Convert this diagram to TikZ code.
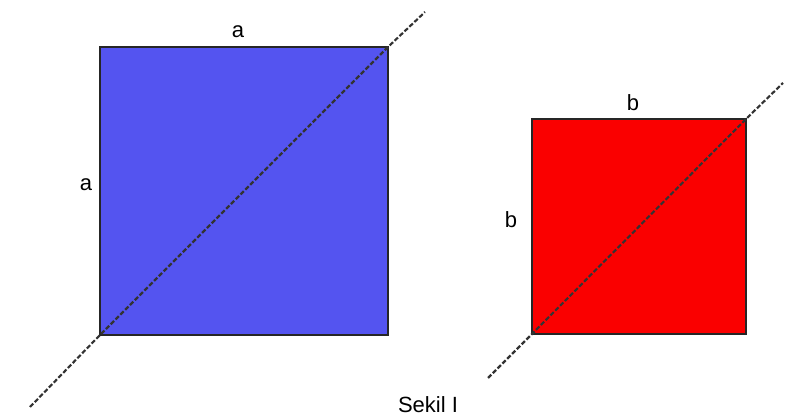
\documentclass[tikz,border=0pt]{standalone}
\usepackage{fontspec}
\setmainfont{Liberation Sans}
\definecolor{sqblue}{RGB}{84,84,240}
\definecolor{sqred}{RGB}{250,0,0}
\begin{document}
\begin{tikzpicture}[x=0.75pt,y=-0.75pt,
  sq/.style={draw=black!85, line width=1.1pt},
  diag/.style={black!80, line width=1.6pt, dash pattern=on 3.5pt off 1.6pt},
  lbl/.style={font=\fontsize{16.5}{18}\selectfont}]
\useasboundingbox (0,0) rectangle (789,416);

% big square
\coordinate (A1) at (100,335);
\coordinate (A2) at (388,47);
\filldraw[sq, fill=sqblue] (A1) rectangle (A2);
\coordinate (A0) at (30,407);
\coordinate (A3) at (425,12);
\draw[diag] (A0) -- (A1) -- (A2) -- (A3);
\node[lbl] (atop) at (238,32) {a};
\node[lbl] (aleft) at (86,185) {a};

% small square
\coordinate (B1) at (532,334);
\coordinate (B2) at (746,119);
\filldraw[sq, fill=sqred] (B1) rectangle (B2);
\coordinate (B0) at (488,378);
\coordinate (B3) at (783,83);
\draw[diag] (B0) -- (B1) -- (B2) -- (B3);
\node[lbl] (btop) at (633,103) {b};
\node[lbl] (bleft) at (511,220) {b};

\node[lbl, anchor=base] (cap) at (428,413) {Sekil I};
\end{tikzpicture}
\end{document}
